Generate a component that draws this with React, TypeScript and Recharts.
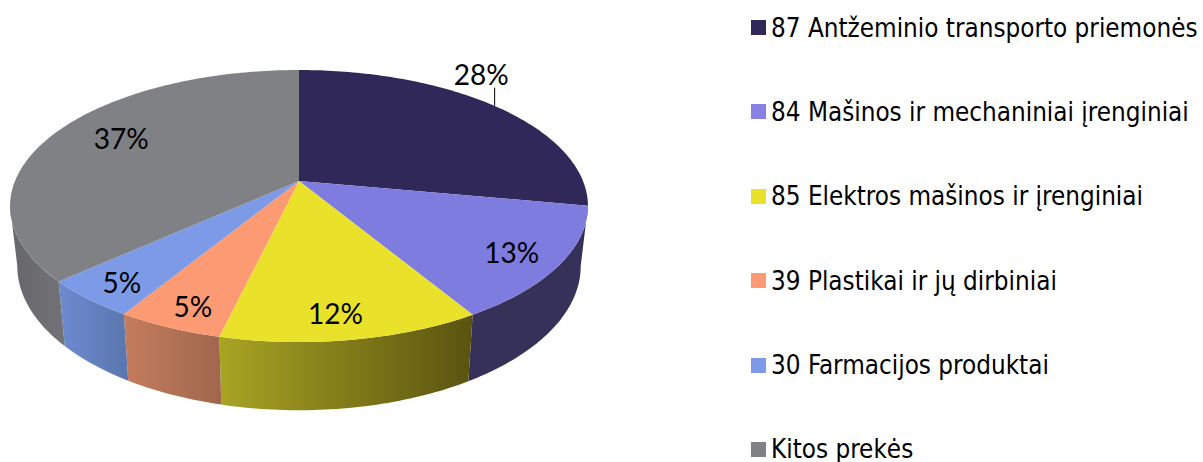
import { PieChart, Pie, Legend } from 'recharts'

const categories = [
  '87 Antžeminio transporto priemonės',
  '84 Mašinos ir mechaniniai įrenginiai',
  '85 Elektros mašinos ir įrenginiai',
  '39 Plastikai ir jų dirbiniai',
  '30 Farmacijos produktai',
  'Kitos prekės',
]
// estimated shares, the picture only prints them rounded
const shares = [27.9, 13.49, 12.31, 5.0, 4.6, 36.7]

const topColors = ['#2f2858', '#7f7ce0', '#eae22a', '#fb9a73', '#7c9ae6', '#808185']
const legendColors = ['#2f2858', '#8781e2', '#eae22a', '#fb9a73', '#7c9ae6', '#808185']
const wallFrom = ['#2f2858', '#353158', '#a8a422', '#c47c5c', '#6e8bd0', '#66666b']
const wallTo = ['#2f2858', '#353158', '#5a5310', '#a0674e', '#5a76ae', '#727277']

// where each percent label sits relative to its slice anchor
const labelNudge = [
  [41, -53],
  [36.5, 14.6],
  [1.5, 28],
  [-20.5, 28.4],
  [-36.4, 22.4],
  [-5, -7.6],
]

const data = categories.map((name, i) => ({ name, value: shares[i], fill: topColors[i] }))

// perspective of the disc: far side is squeezed, near side stretched
const TILT = 0.4627
const PERSP = 0.184
const FRONT_FROM = 100.6
const FRONT_TO = 259.4

// a = degrees clockwise from 12 o'clock
function project(cx: number, cy: number, r: number, a: number) {
  const rad = (a * Math.PI) / 180
  const u = Math.sin(rad)
  const v = Math.cos(rad)
  const k = r / 284
  const d = 1 + PERSP * v * k
  return [cx + (r * u) / d, cy - (r * TILT * v) / d]
}

function lower(cx: number, cy: number, p: number[]) {
  return [cx + (p[0] - cx) * 0.975, p[1] + 58.5 + (p[1] - cy) * 0.06]
}

function arc(cx: number, cy: number, r: number, from: number, to: number) {
  const pts: number[][] = []
  const steps = Math.max(2, Math.ceil(to - from))
  for (let i = 0; i <= steps; i++) pts.push(project(cx, cy, r, from + ((to - from) * i) / steps))
  return pts
}

const toPath = (pts: number[][]) => pts.map((p, i) => `${i ? 'L' : 'M'}${p[0].toFixed(2)},${p[1].toFixed(2)}`).join(' ')

function DiscSlice(props: any) {
  const { cx, cy, outerRadius, startAngle, endAngle, fill, name } = props
  const i = categories.indexOf(name ?? props.payload?.name)
  const from = 90 - Math.max(startAngle, endAngle)
  const to = 90 - Math.min(startAngle, endAngle)
  const rim = arc(cx, cy, outerRadius, from, to)
  const wFrom = Math.max(from, FRONT_FROM)
  const wTo = Math.min(to, FRONT_TO)
  let wall = null
  if (wTo > wFrom) {
    const upper = arc(cx, cy, outerRadius, wFrom, wTo)
    const under = upper.map((p) => lower(cx, cy, p)).reverse()
    const id = `wall-${i}`
    wall = (
      <>
        <linearGradient id={id} x1="0" x2="1" y1="0" y2="0">
          <stop offset="0%" stopColor={wallFrom[i]} />
          <stop offset="100%" stopColor={wallTo[i]} />
        </linearGradient>
        <path d={toPath([...upper, ...under]) + ' Z'} fill={`url(#${id})`} />
      </>
    )
  }
  return (
    <g>
      {wall}
      <path d={toPath([[cx, cy], ...rim]) + ' Z'} fill={fill} />
    </g>
  )
}

function PercentLabel(props: any) {
  const { cx, cy, outerRadius, midAngle, percent, index } = props
  const p = project(cx, cy, outerRadius * 0.7, 90 - midAngle)
  const x = p[0] + labelNudge[index][0]
  const y = p[1] + labelNudge[index][1]
  return (
    <g>
      {index === 0 && <line x1={x + 13.5} x2={x + 13.5} y1={y + 14} y2={y + 32} stroke="#000" strokeWidth={1} />}
      <text x={x} y={y} textAnchor="middle" dominantBaseline="central" fill="#000" fontFamily="Lato" fontSize={28}>
        {Math.round(percent * 100)}%
      </text>
    </g>
  )
}

function LegendList({ payload }: any) {
  return (
    <div>
      {(payload ?? []).map((entry: any, i: number) => (
        <div
          key={entry.value}
          style={{ height: 22, marginBottom: 62.4, display: 'flex', alignItems: 'center', whiteSpace: 'nowrap' }}
        >
          <span style={{ width: 15, height: 15, background: legendColors[i], marginRight: 5, flex: 'none' }} />
          <span style={{ fontFamily: 'DejaVu Sans Condensed', fontSize: 25.8, lineHeight: '22px', color: '#000' }}>
            {entry.value}
          </span>
        </div>
      ))}
    </div>
  )
}

export default function App() {
  return (
    <div style={{ position: 'absolute', left: 0, top: 0 }}>
      <PieChart width={1203} height={462} margin={{ top: 0, right: 0, bottom: 0, left: 0 }}>
        <Pie
          data={data}
          dataKey="value"
          nameKey="name"
          cx={299}
          cy={181}
          outerRadius={284}
          startAngle={90}
          endAngle={-270}
          stroke="none"
          shape={DiscSlice}
          label={PercentLabel}
          labelLine={false}
          isAnimationActive={false}
        />
        <Legend
          layout="vertical"
          content={LegendList}
          itemSorter={null}
          wrapperStyle={{ left: 751, top: 16.5, width: 452, height: 445, bottom: 'auto', margin: 0 }}
        />
      </PieChart>
    </div>
  )
}
